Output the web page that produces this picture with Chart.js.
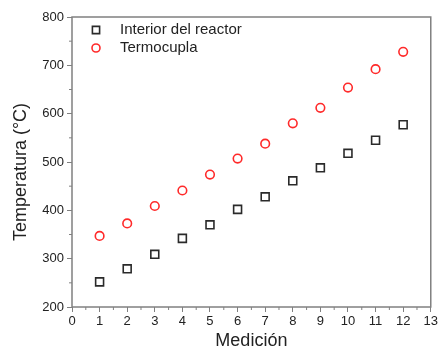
<!DOCTYPE html>
<html>
<head>
<meta charset="utf-8">
<script src="https://cdn.jsdelivr.net/npm/chart.js@4/dist/chart.umd.min.js"></script>
<style>
html,body{margin:0;padding:0;background:#fff;}
#wrap{width:440px;height:352px;}
</style>
</head>
<body>
<div id="wrap"><canvas id="c" width="440" height="352"></canvas></div>
<script>
const mediciones = [1,2,3,4,5,6,7,8,9,10,11,12];
const interiorReactor = [252,279,309,342,370,402,428,461,488,518,545,577];
const termocupla = [347,373,409,441,474,507,538,580,612,654,692,728];
const seriesLabels = ['Interior del reactor','Termocupla'];
const xTicks = [0,1,2,3,4,5,6,7,8,9,10,11,12,13];
const yTicks = [200,300,400,500,600,700,800];

const FONT = "'Liberation Sans', Arial, sans-serif";
const AXIS = '#808080';

const framePlugin = {
  id: 'frame',
  afterDraw(chart) {
    const ctx = chart.ctx, a = chart.chartArea;
    const xs = chart.scales.x, ys = chart.scales.y;
    ctx.save();
    ctx.strokeStyle = AXIS;
    ctx.lineWidth = 1.5;
    ctx.strokeRect(a.left, a.top, a.right - a.left, a.bottom - a.top);
    // minor ticks
    ctx.lineWidth = 1;
    ctx.beginPath();
    for (let i = 0; i < xTicks.length - 1; i++) {
      const px = xs.getPixelForValue((xTicks[i] + xTicks[i+1]) / 2);
      ctx.moveTo(px, a.bottom); ctx.lineTo(px, a.bottom + 3);
    }
    for (let i = 0; i < yTicks.length - 1; i++) {
      const py = ys.getPixelForValue((yTicks[i] + yTicks[i+1]) / 2);
      ctx.moveTo(a.left, py); ctx.lineTo(a.left - 3, py);
    }
    ctx.stroke();
    // legend
    const items = chart.data.datasets;
    ctx.font = '15px ' + FONT;
    ctx.textBaseline = 'middle';
    ctx.textAlign = 'left';
    items.forEach((ds, i) => {
      const cx = a.left + 24, cy = a.top + 13 + i * 18;
      ctx.strokeStyle = ds.borderColor;
      ctx.lineWidth = ds.pointBorderWidth;
      ctx.beginPath();
      if (ds.pointStyle === 'rect') {
        const s = 3.6;
        ctx.rect(cx - s, cy - s, 2*s, 2*s);
      } else {
        ctx.arc(cx, cy, 4, 0, Math.PI*2);
      }
      ctx.stroke();
      ctx.fillStyle = '#222';
      ctx.fillText(ds.label, a.left + 48, cy);
    });
    ctx.restore();
  }
};

new Chart(document.getElementById('c'), {
  type: 'scatter',
  data: {
    datasets: [
      {
        label: seriesLabels[0],
        data: mediciones.map((m, i) => ({x: m, y: interiorReactor[i]})),
        pointStyle: 'rect', pointRadius: 5.6, pointBorderWidth: 1.6,
        borderColor: '#2a2a2a', backgroundColor: 'rgba(0,0,0,0)',
        pointBackgroundColor: 'rgba(0,0,0,0)'
      },
      {
        label: seriesLabels[1],
        data: mediciones.map((m, i) => ({x: m, y: termocupla[i]})),
        pointStyle: 'circle', pointRadius: 4.3, pointBorderWidth: 1.6,
        borderColor: '#ff2a2a', backgroundColor: 'rgba(0,0,0,0)',
        pointBackgroundColor: 'rgba(0,0,0,0)'
      }
    ]
  },
  options: {
    responsive: false,
    animation: false,
    devicePixelRatio: 1,
    layout: { padding: { left: 0, right: 9, top: 17, bottom: 0 } },
    plugins: { legend: { display: false }, tooltip: { enabled: false } },
    scales: {
      x: {
        type: 'linear', min: 0, max: 13,
        afterFit(s) { s.height = 45; },
        afterBuildTicks(s) { s.ticks = xTicks.map(v => ({value: v})); },
        grid: { drawOnChartArea: false, drawTicks: true, tickLength: 5, color: AXIS, lineWidth: 1 },
        border: { display: false },
        ticks: { color: '#222', font: { family: FONT, size: 13 }, padding: 2, maxRotation: 0, autoSkip: false },
        title: { display: true, text: 'Medición', color: '#222', font: { family: FONT, size: 18 }, padding: { top: 0, bottom: 0 } }
      },
      y: {
        type: 'linear', min: 200, max: 800,
        afterFit(s) { s.width = 72; },
        afterBuildTicks(s) { s.ticks = yTicks.map(v => ({value: v})); },
        grid: { drawOnChartArea: false, drawTicks: true, tickLength: 5, color: AXIS, lineWidth: 1 },
        border: { display: false },
        ticks: { color: '#222', font: { family: FONT, size: 13 }, padding: 3 },
        title: { display: true, text: 'Temperatura (°C)\u00a0\u00a0\u00a0\u00a0', color: '#222', font: { family: FONT, size: 18 }, padding: { top: 10, bottom: 0 } }
      }
    }
  },
  plugins: [framePlugin]
});
</script>
</body>
</html>
